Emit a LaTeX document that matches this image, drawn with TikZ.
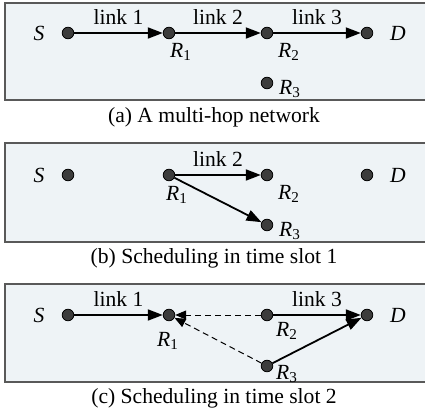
\documentclass[tikz,border=0pt]{standalone}
\usepackage{fontspec}
\setmainfont{Liberation Serif}
\usetikzlibrary{arrows.meta}
\definecolor{panelbg}{RGB}{238,243,246}
\definecolor{dotgray}{RGB}{60,60,60}
\newcommand{\nlabel}[2]{\textit{#1}\textsubscript{#2}}

\begin{document}
\begin{tikzpicture}[x=0.5pt,y=-0.5pt,font=\fontsize{10.8}{13}\selectfont,
    dot/.style={circle,draw=black,fill=dotgray,line width=0.4pt,inner sep=0pt,minimum size=5.8pt},
    panel/.style={draw=black!65,fill=panelbg,line width=0.6pt},
    link/.style={-{Triangle[length=7.5pt,width=5.5pt]},line width=0.9pt},
    linklabel/.style={midway,yshift=8pt},
    idle/.style={-{Triangle[length=5.5pt,width=4.5pt]},line width=0.5pt,dash pattern=on 3pt off 2pt}]
  \useasboundingbox (0,0) rectangle (425,418);

  % (a) the network
  \draw[panel] (5,3) rectangle (432,100);
  \node[dot] (aS) at (68,33) {};
  \node[dot] (aR1) at (169,33) {};
  \node[dot] (aR2) at (267,33) {};
  \node[dot] (aD) at (367,33) {};
  \node[dot] (aR3) at (267,83) {};
  \node at (39,33) {\textit{S}};
  \node at (398,33) {\textit{D}};
  \node at (181,52) {\nlabel{R}{1}};
  \node at (289,52) {\nlabel{R}{2}};
  \node at (290,89) {\nlabel{R}{3}};
  \draw[link] (aS) -- node[linklabel] {link 1} (aR1);
  \draw[link] (aR1) -- node[linklabel] {link 2} (aR2);
  \draw[link] (aR2) -- node[linklabel] {link 3} (aD);
  \node at (214,117) {(a) A multi-hop network};

  % (b) time slot 1
  \draw[panel] (5,143) rectangle (432,242);
  \node[dot] (bS) at (68,175) {};
  \node[dot] (bR1) at (169,175) {};
  \node[dot] (bR2) at (267,175) {};
  \node[dot] (bD) at (367,175) {};
  \node[dot] (bR3) at (267,225) {};
  \node at (39,175) {\textit{S}};
  \node at (398,175) {\textit{D}};
  \node at (177,195) {\nlabel{R}{1}};
  \node at (289,194) {\nlabel{R}{2}};
  \node at (290,231) {\nlabel{R}{3}};
  \draw[link] (bR1) -- node[linklabel] {link 2} (bR2);
  \draw[link] (bR1) -- (bR3);
  \node at (214,258) {(b) Scheduling in time slot 1};

  % (c) time slot 2
  \draw[panel] (5,284) rectangle (432,382);
  \node[dot] (cS) at (68,315) {};
  \node[dot] (cR1) at (169,315) {};
  \node[dot] (cR2) at (267,315) {};
  \node[dot] (cD) at (367,315) {};
  \node[dot] (cR3) at (267,366) {};
  \node at (39,315) {\textit{S}};
  \node at (398,315) {\textit{D}};
  \node at (168,341) {\nlabel{R}{1}};
  \node at (287,331) {\nlabel{R}{2}};
  \node at (287,374) {\nlabel{R}{3}};
  \draw[link] (cS) -- node[linklabel] {link 1} (cR1);
  \draw[link] (cR2) -- node[linklabel] {link 3} (cD);
  \draw[link] (cR3) -- (cD);
  \draw[idle] (cR2) -- (cR1);
  \draw[idle] (cR3) -- (cR1);
  \node at (214,398) {(c) Scheduling in time slot 2};
\end{tikzpicture}
\end{document}
